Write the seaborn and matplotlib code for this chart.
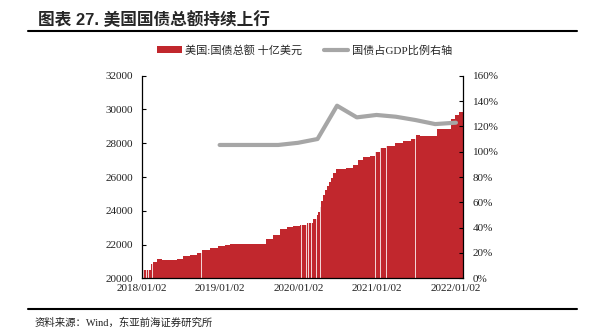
import numpy as np
import pandas as pd
import matplotlib
matplotlib.use("Agg")
import matplotlib.pyplot as plt
import matplotlib.dates as mdates
from matplotlib.patches import Patch
from matplotlib.lines import Line2D
import seaborn as sns

# ---- data ----
debt_dates = ["2018-01-02", "2018-02-13", "2018-02-25", "2018-03-13", "2018-04-05",
              "2018-06-14", "2018-07-15", "2018-08-15", "2018-09-15", "2018-10-08",
              "2018-11-16", "2018-12-25", "2019-01-25", "2019-02-17", "2019-08-02",
              "2019-09-07", "2019-10-08", "2019-11-08", "2019-12-09", "2020-01-09",
              "2020-02-09", "2020-03-11", "2020-03-29", "2020-04-03", "2020-04-10",
              "2020-04-17", "2020-04-25", "2020-05-04", "2020-05-14", "2020-05-24",
              "2020-06-03", "2020-06-13", "2020-06-25", "2020-08-13",
              "2020-09-13", "2020-10-06", "2020-10-29", "2020-11-29", "2020-12-23",
              "2021-01-15", "2021-02-15", "2021-03-26", "2021-05-03", "2021-06-11",
              "2021-07-01", "2021-07-20", "2021-10-09", "2021-12-14", "2021-12-30",
              "2022-01-19"]
debt_values = [20494, 20829, 20967, 21125, 21066,
               21165, 21303, 21402, 21500, 21658,
               21777, 21915, 21974, 22033, 22310,
               22566, 22902, 23020, 23099, 23158,
               23257, 23494, 23751, 23950, 24250,
               24600, 24950, 25250, 25480, 25725,
               25950, 26250, 26455, 26554,
               26712, 27008, 27166, 27264, 27501,
               27699, 27857, 27995, 28133, 28232,
               28469, 28409, 28863, 29416, 29673,
               29850]
debt_end_date = "2022-02-07"

# days with no observation (show as thin white gaps between the daily bars)
gap_dates = ["2018-01-10", "2018-01-18", "2018-01-25", "2018-02-02", "2018-02-13",
             "2018-02-21", "2018-02-28", "2018-03-10", "2018-10-08", "2020-01-16",
             "2020-01-24", "2020-02-01", "2020-02-09", "2020-02-17", "2020-02-24",
             "2020-03-03", "2020-03-11", "2020-03-19", "2020-03-26", "2020-04-14",
             "2020-05-24", "2020-10-11", "2020-12-26", "2021-01-18", "2021-02-15",
             "2021-07-01", "2021-10-09"]

ratio_dates = ["2018-12-31", "2019-03-31", "2019-06-30", "2019-09-30", "2019-12-31",
               "2020-03-31", "2020-06-30", "2020-09-30", "2020-12-31", "2021-03-31",
               "2021-06-30", "2021-09-30", "2022-01-05"]
ratio_values = [105.3, 105.3, 105.3, 105.3, 107.0,
                110.0, 136.3, 127.1, 129.0, 127.6,
                125.0, 121.8, 122.9]

left_ticks = [20000, 22000, 24000, 26000, 28000, 30000, 32000]
right_ticks = [0, 20, 40, 60, 80, 100, 120, 140, 160]
x_tick_dates = ["2018-01-02", "2019-01-02", "2020-01-02", "2021-01-02", "2022-01-02"]

legend_labels = ["美国:国债总额 十亿美元", "国债占GDP比例右轴"]
title_text = "图表 27. 美国国债总额持续上行"
source_text = "资料来源：Wind，东亚前海证券研究所"

# ---- style ----
sns.set_theme(style="white")
plt.rcParams["font.family"] = ["Liberation Serif", "Noto Sans CJK SC", "DejaVu Sans"]
plt.rcParams["axes.unicode_minus"] = False

BAR = "#C1272D"
GREY = "#A6A6A6"

fig = plt.figure(figsize=(5.95, 3.36), dpi=100)
ax = fig.add_axes([0.2382, 0.1717, 0.540, 0.603])

d = pd.to_datetime(debt_dates)
edges = list(d) + [pd.Timestamp(debt_end_date)]
widths = [(edges[i + 1] - edges[i]).days for i in range(len(d))]
ax.bar(mdates.date2num(d), np.array(debt_values) - 20000, bottom=20000,
       width=widths, align="edge", color=BAR, linewidth=0)

# thin white gaps (missing days)
g = pd.to_datetime(gap_dates)
gap_heights = []
for gd in g:
    idx = np.searchsorted(d.values, np.datetime64(gd), side="right") - 1
    gap_heights.append(debt_values[max(idx, 0)] - 20000)
ax.bar(mdates.date2num(g), gap_heights, bottom=20000, width=2.2, align="center",
       color="white", alpha=0.8, linewidth=0)

ax.set_ylim(20000, 32000)
ax.set_yticks(left_ticks)
ax.set_xlim(mdates.date2num(pd.Timestamp("2018-01-02")),
            mdates.date2num(pd.Timestamp(debt_end_date)))
ax.set_xticks(mdates.date2num(pd.to_datetime(x_tick_dates)))
ax.set_xticklabels([pd.Timestamp(t).strftime("%Y/%m/%d") for t in x_tick_dates])
ax.tick_params(axis="x", length=0, pad=4, labelsize=8, colors="#222222")
ax.tick_params(axis="y", direction="in", length=3, width=0.8, pad=6,
               labelsize=8, colors="black", labelcolor="#222222")
for s in ["left", "bottom"]:
    ax.spines[s].set_color("black")
    ax.spines[s].set_linewidth(0.9)
ax.spines["top"].set_visible(False)
ax.spines["right"].set_visible(False)
ax.grid(False)

ax2 = ax.twinx()
rdf = pd.DataFrame({"date": pd.to_datetime(ratio_dates), "ratio": ratio_values})
sns.lineplot(data=rdf, x="date", y="ratio", ax=ax2, color=GREY, linewidth=3,
             legend=False)
ax2.set_ylim(0, 160)
ax2.set_yticks(right_ticks)
ax2.set_yticklabels([f"{v}%" for v in right_ticks])
ax2.set_xlabel("")
ax2.set_ylabel("")
ax.set_xlabel("")
ax2.tick_params(axis="y", direction="in", length=3, width=0.8, pad=7,
                labelsize=8, colors="black", labelcolor="#222222")
ax2.spines["right"].set_color("black")
ax2.spines["right"].set_linewidth(0.9)
for s in ["top", "left", "bottom"]:
    ax2.spines[s].set_visible(False)
ax2.grid(False)

handles = [Patch(facecolor=BAR, edgecolor="none"),
           Line2D([0], [0], color=GREY, linewidth=3)]
fig.legend(handles, legend_labels, loc="center", bbox_to_anchor=(0.512, 0.851),
           ncol=2, frameon=False, fontsize=8, handlelength=2.2,
           handleheight=0.5, handletextpad=0.35, columnspacing=1.9)

fig.text(38 / 595, 1 - 20 / 336, title_text, fontsize=12, fontweight="bold",
         ha="left", va="center", family=["Liberation Sans", "Noto Sans CJK SC"])
fig.add_artist(Line2D([28 / 595, 577 / 595], [1 - 31 / 336, 1 - 31 / 336],
                      color="black", linewidth=1.5))
fig.add_artist(Line2D([28 / 595, 577 / 595], [1 - 309 / 336, 1 - 309 / 336],
                      color="black", linewidth=1.5))
fig.text(35 / 595, 1 - 323 / 336, source_text, fontsize=7.5, ha="left",
         va="center", color="#222222")

fig.savefig("out.png", dpi=100)
